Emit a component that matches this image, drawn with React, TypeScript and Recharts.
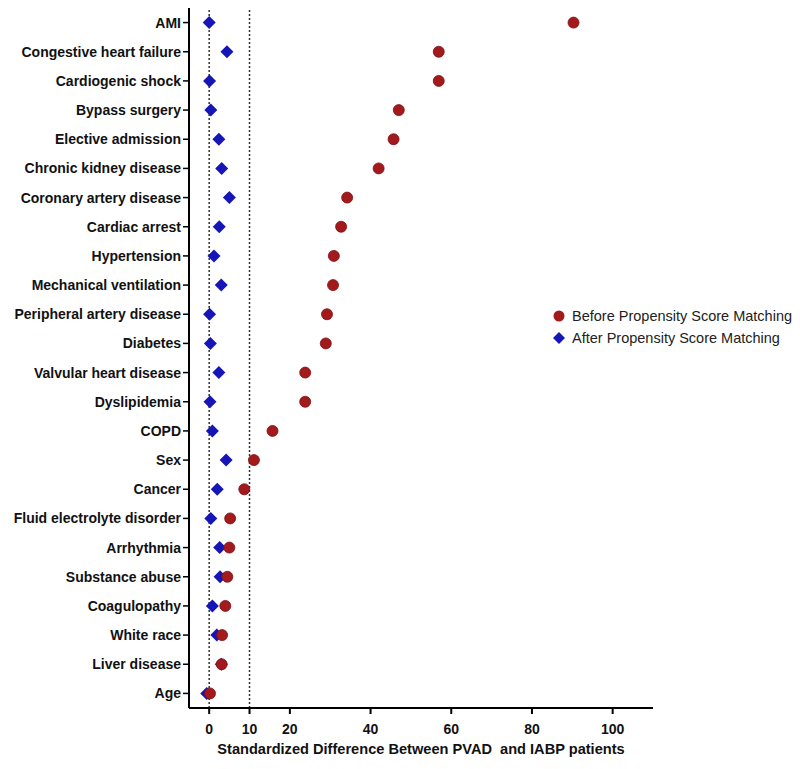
import React from "react"
import { ScatterChart, Scatter, XAxis, YAxis, ReferenceLine } from "recharts"

const categories = [
  "AMI",
  "Congestive heart failure",
  "Cardiogenic shock",
  "Bypass surgery",
  "Elective admission",
  "Chronic kidney disease",
  "Coronary artery disease",
  "Cardiac arrest",
  "Hypertension",
  "Mechanical ventilation",
  "Peripheral artery disease",
  "Diabetes",
  "Valvular heart disease",
  "Dyslipidemia",
  "COPD",
  "Sex",
  "Cancer",
  "Fluid electrolyte disorder",
  "Arrhythmia",
  "Substance abuse",
  "Coagulopathy",
  "White race",
  "Liver disease",
  "Age",
]

const beforeValues = [
  90.3, 56.9, 56.9, 47.0, 45.7, 42.0, 34.2, 32.7, 30.9, 30.7, 29.2, 28.9,
  23.8, 23.8, 15.7, 11.1, 8.7, 5.2, 5.0, 4.5, 4.0, 3.2, 3.1, 0.2,
]

const afterValues = [
  0.0, 4.4, 0.1, 0.4, 2.4, 3.1, 5.0, 2.5, 1.2, 3.0, 0.1, 0.3,
  2.4, 0.2, 0.8, 4.2, 2.0, 0.4, 2.6, 2.7, 0.8, 1.9, 3.0, -0.6,
]

const xTicks = [0, 10, 20, 40, 60, 80, 100]

const beforeData = categories.map((name, i) => ({ name, value: beforeValues[i] }))
const afterData = categories.map((name, i) => ({ name, value: afterValues[i] }))

const RED = "#a3191c"
const BLUE = "#1616b8"
const FONT = "'Liberation Sans', Arial, Helvetica, sans-serif"

const Circle = (props: any) => {
  const { cx, cy } = props
  if (cx == null || cy == null) return null
  return <circle cx={cx} cy={cy} r={5.5} fill={RED} stroke="#7a1012" strokeWidth={0.8} />
}

const Diamond = (props: any) => {
  const { cx, cy } = props
  if (cx == null || cy == null) return null
  const s = 6.5
  return <path d={`M${cx},${cy - s}L${cx + s},${cy}L${cx},${cy + s}L${cx - s},${cy}Z`} fill={BLUE} />
}

// legend drawn as plain html so it does not take room from the plot
const LegendBox = () => (
  <div style={{ position: "absolute", left: 544, top: 297, fontFamily: FONT, fontSize: 14.5, color: "#222" }}>
    <div style={{ display: "flex", alignItems: "center", height: 22 }}>
      <svg width={20} height={14}>
        <circle cx={7} cy={7} r={5.5} fill={RED} />
      </svg>
      <span>Before Propensity Score Matching</span>
    </div>
    <div style={{ display: "flex", alignItems: "center", height: 22 }}>
      <svg width={20} height={14}>
        <path d="M7,1L13,7L7,13L1,7Z" fill={BLUE} />
      </svg>
      <span>After Propensity Score Matching</span>
    </div>
  </div>
)

export default function App() {
  return (
    <div style={{ position: "relative", width: 792, height: 761 }}>
      <ScatterChart width={792} height={761} margin={{ top: 0, right: 147, bottom: 11, left: 0 }}>
        <XAxis
          type="number"
          dataKey="value"
          domain={[-5, 110]}
          ticks={xTicks}
          allowDataOverflow
          axisLine={{ stroke: "#000", strokeWidth: 2 }}
          tickLine={{ stroke: "#000", strokeWidth: 2 }}
          tickSize={6}
          tickMargin={10}
          tick={{ fill: "#111", fontSize: 14, fontWeight: 700, fontFamily: FONT }}
          height={50}
          label={{
            value: "Standardized Difference Between PVAD\u00a0 and IABP patients",
            position: "insideBottom",
            offset: 4,
            fill: "#111",
            fontSize: 14.6,
            fontWeight: 700,
            fontFamily: FONT,
          }}
        />
        <YAxis
          type="category"
          dataKey="name"
          allowDuplicatedCategory={false}
          reversed
          interval={0}
          width={181}
          axisLine={{ stroke: "#000", strokeWidth: 2 }}
          tickLine={{ stroke: "#000", strokeWidth: 1.5 }}
          tickSize={6}
          tickMargin={2}
          tick={{ fill: "#111", fontSize: 14, fontWeight: 700, fontFamily: FONT }}
        />
        <ReferenceLine x={0} stroke="#333" strokeWidth={1.5} strokeDasharray="2 2" />
        <ReferenceLine x={10} stroke="#333" strokeWidth={1.5} strokeDasharray="2 2" />
        <Scatter name="After Propensity Score Matching" data={afterData} shape={<Diamond />} isAnimationActive={false} />
        <Scatter name="Before Propensity Score Matching" data={beforeData} shape={<Circle />} isAnimationActive={false} />
      </ScatterChart>
      <LegendBox />
    </div>
  )
}
